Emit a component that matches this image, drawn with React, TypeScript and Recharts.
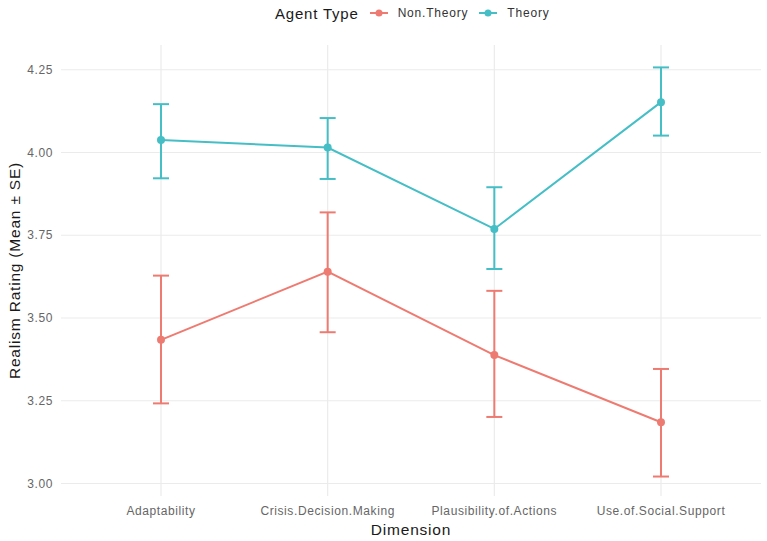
import React from 'react';
import { LineChart, Line, XAxis, YAxis, ReferenceLine, ErrorBar, Label } from 'recharts';

// Dimensions rated, in x-axis order
const categories = [
  'Adaptability',
  'Crisis.Decision.Making',
  'Plausibility.of.Actions',
  'Use.of.Social.Support',
];

// Theory agents: mean rating and mean ± SE bounds
const theoryMean = [4.038, 4.015, 3.769, 4.152];
const theoryLow = [3.922, 3.92, 3.648, 4.051];
const theoryHigh = [4.146, 4.104, 3.895, 4.257];

// Non.Theory agents: mean rating and mean ± SE bounds
const nonTheoryMean = [3.434, 3.64, 3.388, 3.185];
const nonTheoryLow = [3.242, 3.457, 3.201, 3.021];
const nonTheoryHigh = [3.628, 3.819, 3.582, 3.346];

const yTicks = [3, 3.25, 3.5, 3.75, 4, 4.25];
const xTicks = categories.map((_, i) => i + 1);

const RED = '#EE7B71';
const TEAL = '#45BEC6';
const GRID = '#EBEBEB';
const FONT = '"Liberation Sans", Arial, sans-serif';

const rows = categories.map((name, i) => ({
  pos: i + 1,
  name,
  nonTheory: nonTheoryMean[i],
  nonTheoryErr: [nonTheoryMean[i] - nonTheoryLow[i], nonTheoryHigh[i] - nonTheoryMean[i]],
  theory: theoryMean[i],
  theoryErr: [theoryMean[i] - theoryLow[i], theoryHigh[i] - theoryMean[i]],
}));

const KeyGlyph = ({ color }: { color: string }) => (
  <svg width={18} height={10} style={{ display: 'block' }}>
    <line x1={0} y1={5} x2={18} y2={5} stroke={color} strokeWidth={2} />
    <circle cx={9} cy={5} r={3.5} fill={color} />
  </svg>
);

const LegendBar = () => (
  <div
    style={{
      position: 'absolute',
      left: 275,
      top: 4,
      height: 18,
      display: 'flex',
      alignItems: 'center',
      fontFamily: FONT,
      color: '#1a1a1a',
    }}
  >
    <span style={{ fontSize: 15, letterSpacing: 0.8, marginRight: 11 }}>Agent Type</span>
    <KeyGlyph color={RED} />
    <span style={{ fontSize: 12, letterSpacing: 0.8, marginLeft: 10, marginRight: 11, color: '#333' }}>
      Non.Theory
    </span>
    <KeyGlyph color={TEAL} />
    <span style={{ fontSize: 12, letterSpacing: 0.8, marginLeft: 10, color: '#333' }}>Theory</span>
  </div>
);

const tickStyle = { fontSize: 12, fill: '#666', fontFamily: FONT, letterSpacing: 0.6 };

export default function App() {
  return (
    <div style={{ position: 'absolute', left: 0, top: 0, width: 767, height: 541, background: '#fff' }}>
      <LegendBar />
      <LineChart
        width={767}
        height={541}
        data={rows}
        margin={{ top: 45, right: 6, bottom: 0, left: 0 }}
        style={{ fontFamily: FONT }}
      >
        <XAxis
          dataKey="pos"
          type="number"
          domain={[0.4, 4.6]}
          ticks={xTicks}
          tickFormatter={(v: number) => categories[v - 1]}
          axisLine={false}
          tickLine={false}
          tickSize={0}
          tickMargin={10}
          height={45}
          tick={tickStyle}
          allowDataOverflow
        >
          <Label
            value="Dimension"
            position="insideBottom"
            offset={6}
            style={{ fontSize: 15.5, fill: '#1a1a1a', letterSpacing: 0.8, fontFamily: FONT }}
          />
        </XAxis>
        <YAxis
          type="number"
          domain={[2.9622, 4.3247]}
          ticks={yTicks}
          tickFormatter={(v: number) => v.toFixed(2)}
          axisLine={false}
          tickLine={false}
          tickSize={0}
          tickMargin={8}
          width={61}
          tick={tickStyle}
          allowDataOverflow
        >
          <Label
            value="Realism Rating (Mean ± SE)"
            angle={-90}
            position="insideLeft"
            offset={14}
            style={{ fontSize: 15.5, fill: '#1a1a1a', letterSpacing: 0.8, textAnchor: 'middle', fontFamily: FONT }}
          />
        </YAxis>
        {/* panel grid: one line per axis break */}
        {yTicks.map((t) => (
          <ReferenceLine key={`gy${t}`} y={t} stroke={GRID} strokeWidth={1.2} />
        ))}
        {xTicks.map((t) => (
          <ReferenceLine key={`gx${t}`} x={t} stroke={GRID} strokeWidth={1.2} />
        ))}
        <Line
          dataKey="nonTheory"
          stroke={RED}
          strokeWidth={2}
          dot={{ r: 4, fill: RED, stroke: RED, strokeWidth: 0 }}
          activeDot={false}
          isAnimationActive={false}
        >
          <ErrorBar dataKey="nonTheoryErr" direction="y" width={8} stroke={RED} strokeWidth={2} isAnimationActive={false} />
        </Line>
        <Line
          dataKey="theory"
          stroke={TEAL}
          strokeWidth={2}
          dot={{ r: 4, fill: TEAL, stroke: TEAL, strokeWidth: 0 }}
          activeDot={false}
          isAnimationActive={false}
        >
          <ErrorBar dataKey="theoryErr" direction="y" width={8} stroke={TEAL} strokeWidth={2} isAnimationActive={false} />
        </Line>
      </LineChart>
    </div>
  );
}
